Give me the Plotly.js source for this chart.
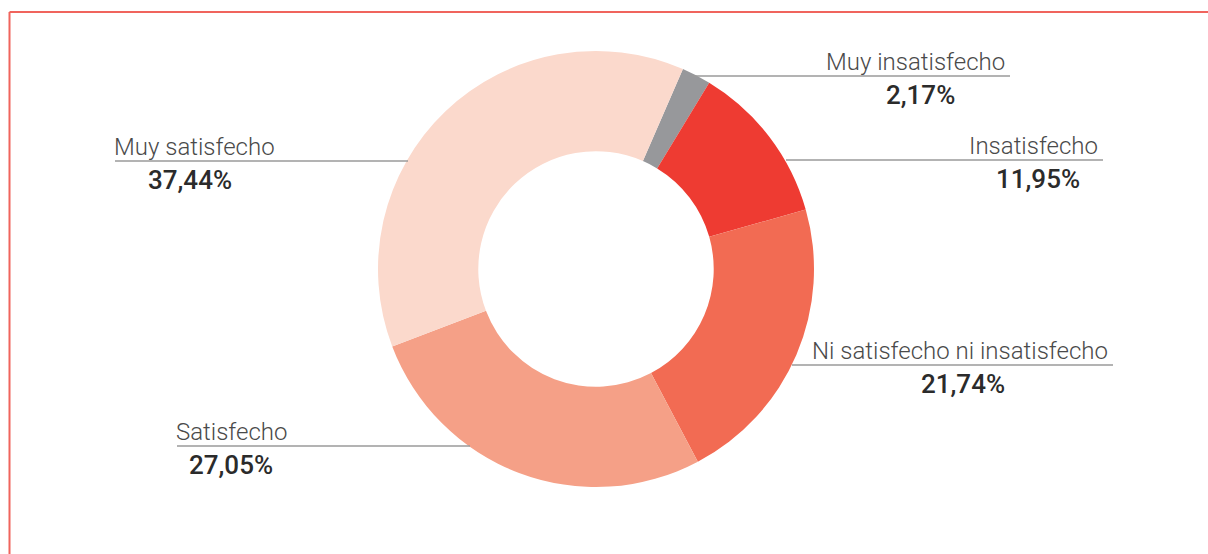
<!DOCTYPE html>
<html>
<head>
<meta charset="utf-8">
<script src="https://cdn.plot.ly/plotly-3.0.1.min.js"></script>
<style>html,body{margin:0;padding:0;background:#fff;}#chart{width:1208px;height:554px;}</style>
</head>
<body>
<div id="chart"></div>
<script>
// Data
const categories = ["Muy insatisfecho", "Insatisfecho", "Ni satisfecho ni insatisfecho", "Satisfecho", "Muy satisfecho"];
const values = [2.17, 11.95, 21.74, 27.05, 37.44];
const valueLabels = ["2,17%", "11,95%", "21,74%", "27,05%", "37,44%"];
const colors = ["#97989b", "#ee3b32", "#f26b53", "#f5a087", "#fbd9cc"];

// Label layout (pixels): leader line y, line start x, line end x, side, percent center x
const leaderY = [76, 160, 365, 446, 161];
const leaderX0 = [692, 786, 792, 177, 115];
const leaderX1 = [1010, 1103, 1113, 470, 408];
const side = ["right", "right", "right", "left", "left"];
const pctCenterX = [920, 1038, 963, 231, 190];

const W = 1208, H = 554;
const px = x => x / W;
const py = y => 1 - y / H;

const cx = 596, cy = 269, R = 218;

const shapes = [];
const annotations = [];
// frame
shapes.push({type: "line", xref: "paper", yref: "paper", x0: px(9.5), x1: 1, y0: py(12), y1: py(12), line: {color: "#f0645d", width: 2}});
shapes.push({type: "line", xref: "paper", yref: "paper", x0: px(9.5), x1: px(9.5), y0: py(12), y1: 0, line: {color: "#f0645d", width: 2}});

categories.forEach((c, i) => {
  shapes.push({type: "line", xref: "paper", yref: "paper", x0: px(leaderX0[i]), x1: px(leaderX1[i]), y0: py(leaderY[i]), y1: py(leaderY[i]), line: {color: "#9a9a9a", width: 1.5}});
  const right = side[i] === "right";
  annotations.push({
    xref: "paper", yref: "paper",
    x: right ? px(leaderX1[i] - 3) : px(leaderX0[i] - 3),
    xanchor: right ? "right" : "left",
    y: py(leaderY[i] - 14), yanchor: "middle",
    text: c, showarrow: false,
    font: {family: "Roboto", size: 24, color: "#4a4a4a", weight: 300}
  });
  annotations.push({
    xref: "paper", yref: "paper",
    x: px(pctCenterX[i]), xanchor: "center",
    y: py(leaderY[i] + 19), yanchor: "middle",
    text: valueLabels[i], showarrow: false,
    font: {family: "Roboto", size: 26, color: "#2b2b2b", weight: 500}
  });
});

const trace = {
  type: "pie",
  labels: categories,
  values: values,
  marker: {colors: colors, line: {width: 0}},
  hole: 0.54,
  sort: false,
  direction: "clockwise",
  rotation: 23.5,
  textinfo: "none",
  hoverinfo: "label+percent",
  domain: {x: [px(cx - R), px(cx + R)], y: [py(cy + R), py(cy - R)]}
};

Plotly.newPlot("chart", [trace], {
  width: W, height: H,
  margin: {l: 0, r: 0, t: 0, b: 0},
  showlegend: false,
  paper_bgcolor: "#ffffff",
  shapes: shapes,
  annotations: annotations
}, {displayModeBar: false, staticPlot: true});
</script>
</body>
</html>
